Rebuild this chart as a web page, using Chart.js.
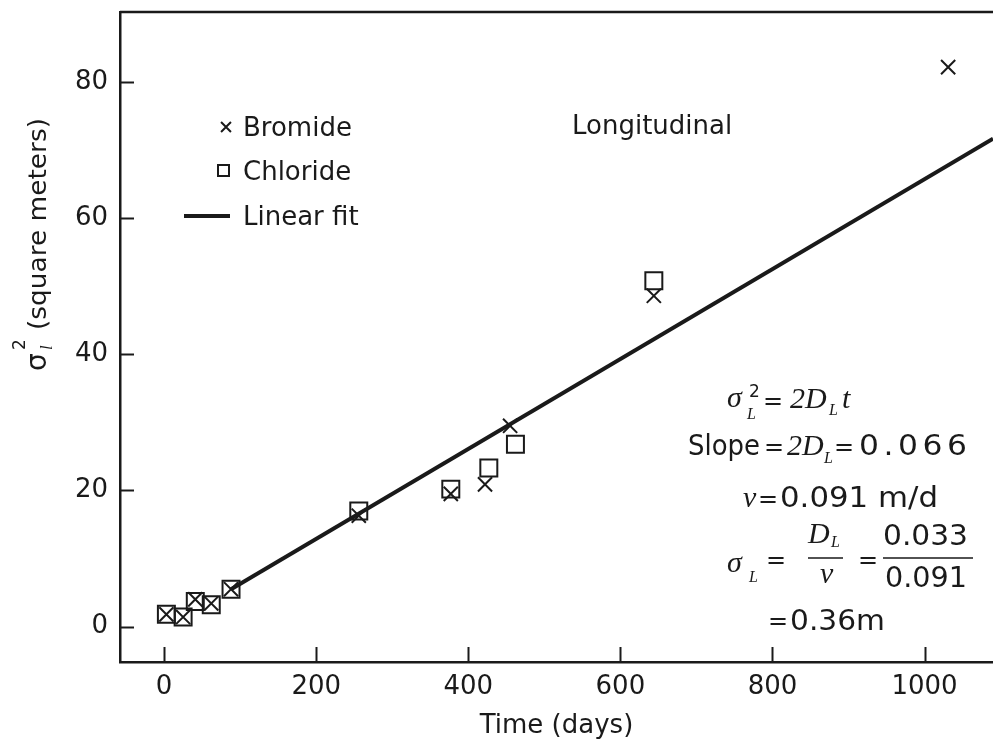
<!DOCTYPE html>
<html>
<head>
<meta charset="utf-8">
<script src="https://cdn.jsdelivr.net/npm/chart.js@4.4.0/dist/chart.umd.min.js"></script>
<style>
  html, body { margin: 0; padding: 0; background: #fff; overflow: hidden; }
  canvas { display: block; }
</style>
</head>
<body>
<canvas id="chart" width="993" height="739"></canvas>
<script>
// Data (time in days, sigma_L^2 in square meters)
const bromideDays = [3, 25, 41, 62, 88, 256, 377, 422, 455, 644, 1031];
const bromideVals = [1.8, 1.4, 4.0, 3.4, 5.5, 16.3, 19.5, 20.9, 29.5, 48.6, 82.2];
const chlorideDays = [3, 25, 41, 62, 88, 256, 377, 427, 462, 644];
const chlorideVals = [1.8, 1.4, 3.7, 3.2, 5.5, 17.0, 20.2, 23.3, 26.8, 50.8];
const fitDays = [88, 1090];
const fitVals = [5.5, 71.7];
const xTicks = [0, 200, 400, 600, 800, 1000];
const yTicks = [0, 20, 40, 60, 80];

const INK = '#1a1a1a';
const SANS = "'DejaVu Sans', sans-serif";
const SERIF = "'Liberation Serif', serif";

function toPoints(xs, ys) {
    return xs.map((x, i) => ({ x: x, y: ys[i] }));
}

function txt(ctx, str, x, base, font) {
    ctx.font = font;
    ctx.fillText(str, x, base);
}

// widen (a little stretch, then spacing) or squeeze a string to cover x1..x2
function fitText(ctx, str, x1, x2, base, font) {
    ctx.font = font;
    ctx.letterSpacing = '0px';
    const w = ctx.measureText(str).width;
    const target = x2 - x1;
    const sx = Math.min(target / w, 1.12);
    const extra = target - w * sx;
    ctx.save();
    if (extra > 0 && str.length > 1) {
        ctx.letterSpacing = (extra / (str.length - 1) / sx).toFixed(2) + 'px';
    }
    ctx.translate(x1, base);
    ctx.scale(sx, 1);
    ctx.fillText(str, 0, 0);
    ctx.restore();
    ctx.letterSpacing = '0px';
}

// Frame, inward ticks, legend, y title and the equations
const decorations = {
    id: 'decorations',
    afterDraw(chart) {
        const ctx = chart.ctx;
        const area = chart.chartArea;
        const xs = chart.scales.x;
        const ys = chart.scales.y;

        ctx.save();
        ctx.strokeStyle = INK;
        ctx.fillStyle = INK;

        // top border
        ctx.lineWidth = 2.5;
        ctx.beginPath();
        ctx.moveTo(area.left, area.top);
        ctx.lineTo(area.right, area.top);
        ctx.stroke();

        // inward tick marks
        ctx.lineWidth = 2;
        xTicks.forEach(v => {
            const px = Math.round(xs.getPixelForValue(v)) + 0.5;
            ctx.beginPath();
            ctx.moveTo(px, area.bottom);
            ctx.lineTo(px, area.bottom - 15);
            ctx.stroke();
        });
        yTicks.forEach(v => {
            const py = Math.round(ys.getPixelForValue(v)) + 0.5;
            ctx.beginPath();
            ctx.moveTo(area.left, py);
            ctx.lineTo(area.left + 14, py);
            ctx.stroke();
        });

        // legend
        const ds = chart.data.datasets;
        Chart.helpers.drawPoint(ctx, { pointStyle: 'crossRot', radius: 7, borderWidth: 2 }, 226, 127);
        ctx.lineWidth = 2;
        ctx.strokeRect(218, 165, 11, 11);
        ctx.lineWidth = 4;
        ctx.beginPath();
        ctx.moveTo(184, 216);
        ctx.lineTo(230, 216);
        ctx.stroke();
        ctx.textBaseline = 'alphabetic';
        ctx.textAlign = 'left';
        txt(ctx, ds[0].label, 243, 136, '26px ' + SANS);
        txt(ctx, ds[1].label, 243, 180, '26px ' + SANS);
        txt(ctx, ds[2].label, 243, 225, '26px ' + SANS);

        txt(ctx, 'Longitudinal', 572, 134, '26px ' + SANS);

        // y axis title, rotated
        ctx.save();
        ctx.translate(46, 372);
        ctx.rotate(-Math.PI / 2);
        txt(ctx, 'σ', 1, 0, '28px ' + SANS);
        txt(ctx, '2', 22, -21, '17px ' + SANS);
        txt(ctx, 'l', 22, 6, 'italic 17px ' + SERIF);
        fitText(ctx, '(square meters)', 42, 254, 0, '25px ' + SANS);
        ctx.restore();

        // equations
        const IT = 'italic 30px ' + SERIF;
        const SUB = 'italic 16px ' + SERIF;
        const NUM = '28px ' + SANS;
        const EQ = '24px ' + SANS;

        txt(ctx, 'σ', 727, 407, IT);
        txt(ctx, '2', 749, 397, '17px ' + SANS);
        txt(ctx, 'L', 747, 419, SUB);
        txt(ctx, '=', 763, 409, EQ);
        txt(ctx, '2D', 790, 408, IT);
        txt(ctx, 'L', 829, 415, SUB);
        txt(ctx, 't', 842, 408, IT);

        fitText(ctx, 'Slope', 688, 760, 455, NUM);
        txt(ctx, '=', 764, 455, EQ);
        txt(ctx, '2D', 787, 455, IT);
        txt(ctx, 'L', 824, 463, SUB);
        txt(ctx, '=', 834, 455, EQ);
        fitText(ctx, '0.066', 859, 967, 455, NUM);

        txt(ctx, 'v', 743, 507, IT);
        txt(ctx, '=', 758, 507, EQ);
        fitText(ctx, '0.091 m/d', 780, 938, 507, NUM);

        txt(ctx, 'σ', 727, 572, IT);
        txt(ctx, 'L', 749, 582, SUB);
        txt(ctx, '=', 766, 568, EQ);
        txt(ctx, 'D', 808, 543, IT);
        txt(ctx, 'L', 831, 547, SUB);
        txt(ctx, 'v', 820, 583, IT);
        txt(ctx, '=', 858, 568, EQ);
        fitText(ctx, '0.033', 883, 968, 545, NUM);
        fitText(ctx, '0.091', 885, 967, 587, NUM);
        ctx.lineWidth = 1.5;
        ctx.beginPath();
        ctx.moveTo(808, 558);
        ctx.lineTo(843, 558);
        ctx.moveTo(883, 558);
        ctx.lineTo(973, 558);
        ctx.stroke();

        txt(ctx, '=', 768, 629, EQ);
        fitText(ctx, '0.36m', 790, 885, 630, NUM);

        ctx.restore();
    }
};

new Chart(document.getElementById('chart'), {
    type: 'scatter',
    data: {
        datasets: [
            {
                label: 'Bromide',
                data: toPoints(bromideDays, bromideVals),
                pointStyle: 'crossRot',
                pointRadius: 10,
                borderColor: INK,
                backgroundColor: 'transparent',
                pointBorderWidth: 2,
                order: 1
            },
            {
                label: 'Chloride',
                data: toPoints(chlorideDays, chlorideVals),
                pointStyle: 'rect',
                pointRadius: 12,
                borderColor: INK,
                backgroundColor: 'transparent',
                pointBorderWidth: 2,
                order: 2
            },
            {
                label: 'Linear fit',
                type: 'line',
                data: toPoints(fitDays, fitVals),
                borderColor: INK,
                borderWidth: 4,
                pointRadius: 0,
                fill: false,
                order: 0
            }
        ]
    },
    options: {
        responsive: false,
        devicePixelRatio: 1,
        animation: false,
        layout: { autoPadding: false, padding: { top: 12, right: 0, left: 0, bottom: 0 } },
        plugins: {
            legend: { display: false },
            tooltip: { enabled: false }
        },
        scales: {
            x: {
                type: 'linear',
                min: -58,
                max: 1090,
                afterBuildTicks: s => { s.ticks = xTicks.map(v => ({ value: v })); },
                afterFit: s => {
                    s.height = 77;
                    s.paddingLeft = 0;
                    s.paddingRight = 0;
                },
                grid: { display: false, drawTicks: false },
                border: { display: true, color: INK, width: 2.5 },
                ticks: {
                    color: INK,
                    padding: 10,
                    maxRotation: 0,
                    callback: v => String(v),
                    font: { family: SANS, size: 26 }
                },
                title: {
                    display: true,
                    text: 'Time (days)',
                    color: INK,
                    padding: 0,
                    font: { family: SANS, size: 26, lineHeight: 1 }
                }
            },
            y: {
                type: 'linear',
                min: -5.2,
                max: 90.3,
                afterBuildTicks: s => { s.ticks = yTicks.map(v => ({ value: v })); },
                afterFit: s => {
                    s.width = 120;
                    s.paddingTop = 0;
                    s.paddingBottom = 0;
                },
                grid: { display: false, drawTicks: false },
                border: { display: true, color: INK, width: 2.5 },
                ticks: {
                    color: INK,
                    padding: 12,
                    callback: v => String(v),
                    font: { family: SANS, size: 26 }
                }
            }
        }
    },
    plugins: [decorations]
});
</script>
</body>
</html>
